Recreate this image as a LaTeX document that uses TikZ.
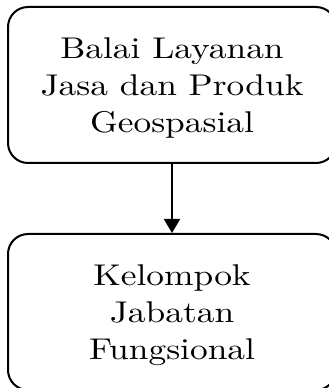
\documentclass[tikz,border=0pt]{standalone}
\usepackage{fontspec}
\setmainfont{lmroman10-regular.otf}[FakeStretch=1.18]
\usetikzlibrary{arrows.meta}
\begin{document}
\begin{tikzpicture}[x=1pt,y=1pt,
  boxstyle/.style={draw=black, line width=2pt, rounded corners=20pt,
    minimum width=328pt, minimum height=156pt, inner sep=0pt},
  textstyle/.style={inner sep=0pt, align=center,
    font=\fontsize{30}{37}\selectfont},
  arrowstyle/.style={line width=2pt, -{Triangle[width=16pt,length=14pt]}}]
\clip (0,0) rectangle (329,388);
\node[boxstyle] (top) at (172,303) {};
\node[boxstyle] (bot) at (172,76) {};
\node[textstyle] (toptext) at (172,300.4) {Balai Layanan\\Jasa dan Produk\\Geospasial};
\node[textstyle] (bottext) at (172,72.9) {Kelompok\\Jabatan\\Fungsional};
\draw[arrowstyle] (top.south) -- (bot.north);
\end{tikzpicture}
\end{document}
